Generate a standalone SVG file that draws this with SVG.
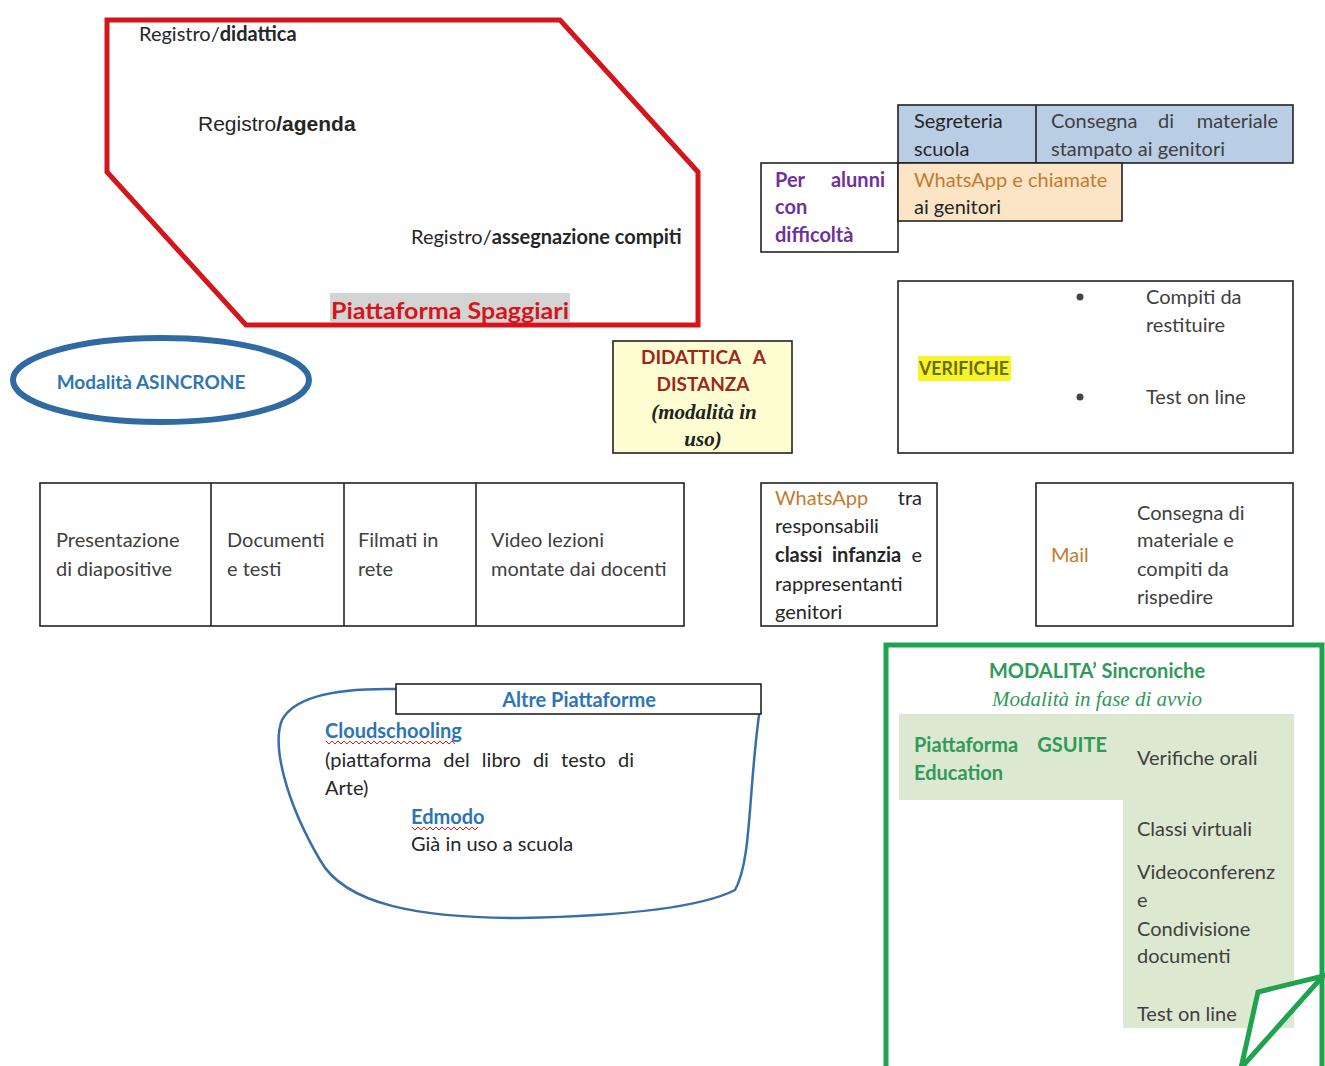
<svg xmlns="http://www.w3.org/2000/svg" width="1325" height="1066" viewBox="0 0 1325 1066">
<style>
text{font-family:Lato,"Open Sans","Liberation Sans",sans-serif;font-size:20px;fill:#262626}
.b{font-weight:bold}
.g{fill:#404040}
.box{fill:none;stroke:#222;stroke-width:1.6}
.serif{font-family:"Liberation Serif","DejaVu Serif",serif}
</style>
<rect width="1325" height="1066" fill="#fff"/>

<g id="spaggiari">
<polygon points="107,20 560,20 698,172 698,325 246,325 107,172" fill="none" stroke="#d4161c" stroke-width="5"/>
<text x="139" y="41">Registro/<tspan class="b">didattica</tspan></text>
<text x="198" y="131" style="font-family:'Liberation Sans',Arial,sans-serif;font-size:21px">Registro<tspan class="b">/agenda</tspan></text>
<text x="411" y="244">Registro/<tspan class="b">assegnazione compiti</tspan></text>
<rect x="330" y="293" width="240" height="29" fill="#d4d4d4"/>
<text x="331" y="319" class="b" textLength="238" lengthAdjust="spacingAndGlyphs" style="font-size:23px;fill:#d4161c">Piattaforma Spaggiari</text>
</g>

<g id="asincrone">
<ellipse cx="161" cy="380" rx="148" ry="42" fill="none" stroke="#2f6aa3" stroke-width="6"/>
<text x="151" y="389" text-anchor="middle" class="b" style="fill:#2e75b6;font-size:19px">Modalità ASINCRONE</text>
</g>

<g id="segreteria">
<rect x="898" y="105" width="395" height="58" fill="#b9cde5" stroke="#222" stroke-width="1.6"/>
<line x1="1036" y1="105" x2="1036" y2="163" stroke="#222" stroke-width="1.6"/>
<text x="914" y="128">Segreteria</text>
<text x="914" y="156">scuola</text>
<text y="128" style="fill:#404040"><tspan x="1051">Consegna</tspan><tspan x="1158">di</tspan><tspan x="1278" text-anchor="end">materiale</tspan></text>
<text x="1051" y="156" style="fill:#404040">stampato ai genitori</text>
</g>

<g id="difficolta">
<rect x="761" y="163" width="137" height="89" class="box" fill="#fff"/>
<text y="187" class="b" style="fill:#7030a0"><tspan x="775">Per</tspan><tspan x="885" text-anchor="end">alunni</tspan></text>
<text x="775" y="214" class="b" style="fill:#7030a0">con</text>
<text x="775" y="242" class="b" style="fill:#7030a0">difficoltà</text>
</g>

<g id="whatsapp-chiamate">
<rect x="898" y="163" width="224" height="58" fill="#fce5c7" stroke="#222" stroke-width="1.6"/>
<text x="914" y="187" style="fill:#c57a2c">WhatsApp e chiamate</text>
<text x="914" y="214">ai genitori</text>
</g>

<g id="didattica">
<rect x="613" y="341" width="179" height="112" fill="#fefed2" stroke="#222" stroke-width="1.6"/>
<text y="364" class="b" style="fill:#a0261c;font-size:19px"><tspan x="641">DIDATTICA</tspan><tspan x="766" text-anchor="end">A</tspan></text>
<text x="703" y="391" text-anchor="middle" class="b" style="fill:#a0261c;font-size:19px">DISTANZA</text>
<text x="704" y="419" text-anchor="middle" class="serif" style="font-weight:bold;font-style:italic;font-size:21px;fill:#222">(modalità in</text>
<text x="703" y="446" text-anchor="middle" class="serif" style="font-weight:bold;font-style:italic;font-size:21px;fill:#222">uso)</text>
</g>

<g id="verifiche">
<rect x="898" y="281" width="395" height="172" class="box"/>
<rect x="918" y="356" width="93" height="25" fill="#f5f52a"/>
<text x="919" y="375" class="b" textLength="90" lengthAdjust="spacingAndGlyphs" style="fill:#6b6b00;font-size:18px">VERIFICHE</text>
<circle cx="1080" cy="297" r="3.5" fill="#444"/>
<circle cx="1080" cy="397" r="3.5" fill="#444"/>
<text x="1146" y="304" class="g">Compiti da</text>
<text x="1146" y="332" class="g">restituire</text>
<text x="1146" y="404" class="g">Test on line</text>
</g>

<g id="strumenti">
<rect x="40" y="483" width="644" height="143" class="box"/>
<line x1="211" y1="483" x2="211" y2="626" stroke="#222" stroke-width="1.6"/>
<line x1="344" y1="483" x2="344" y2="626" stroke="#222" stroke-width="1.6"/>
<line x1="476" y1="483" x2="476" y2="626" stroke="#222" stroke-width="1.6"/>
<text x="56" y="547" class="g">Presentazione</text>
<text x="56" y="576" class="g">di diapositive</text>
<text x="227" y="547" class="g">Documenti</text>
<text x="227" y="576" class="g">e testi</text>
<text x="358" y="547" class="g">Filmati in</text>
<text x="358" y="576" class="g">rete</text>
<text x="491" y="547" class="g">Video lezioni</text>
<text x="491" y="576" class="g">montate dai docenti</text>
</g>

<g id="whatsapp-infanzia">
<rect x="761" y="483" width="176" height="143" class="box"/>
<text y="505"><tspan x="775" style="fill:#c57a2c">WhatsApp</tspan><tspan x="922" text-anchor="end">tra</tspan></text>
<text x="775" y="533">responsabili</text>
<text y="562"><tspan x="775" class="b">classi</tspan><tspan x="832" class="b">infanzia</tspan><tspan x="922" text-anchor="end">e</tspan></text>
<text x="775" y="591">rappresentanti</text>
<text x="775" y="619">genitori</text>
</g>

<g id="mail">
<rect x="1036" y="483" width="257" height="143" class="box"/>
<text x="1051" y="562" style="fill:#c57a2c">Mail</text>
<text x="1137" y="520" class="g">Consegna di</text>
<text x="1137" y="547" class="g">materiale e</text>
<text x="1137" y="576" class="g">compiti da</text>
<text x="1137" y="604" class="g">rispedire</text>
</g>

<g id="altre-piattaforme">
<path d="M396,689 C340,688 295,695 282,720 C272,745 285,800 320,860 C345,905 420,918 520,918 C620,916 700,908 735,890 C752,860 748,790 760,708" fill="none" stroke="#3a6ea6" stroke-width="2.5"/>
<rect x="396" y="684" width="365" height="30" fill="#fff" stroke="#222" stroke-width="1.6"/>
<text x="579" y="707" text-anchor="middle" class="b" style="fill:#2e75b6">Altre Piattaforme</text>
<text x="325" y="738" class="b" style="fill:#2e75b6">Cloudschooling</text>
<path d="M326,741 l3,3 l3,-3 l3,3 l3,-3 l3,3 l3,-3 l3,3 l3,-3 l3,3 l3,-3 l3,3 l3,-3 l3,3 l3,-3 l3,3 l3,-3 l3,3 l3,-3 l3,3 l3,-3 l3,3 l3,-3 l3,3 l3,-3 l3,3 l3,-3 l3,3 l3,-3 l3,3 l3,-3 l3,3 l3,-3 l3,3 l3,-3 l3,3 l3,-3 l3,3 l3,-3 l3,3 l3,-3 l3,3 l3,-3 l3,3" fill="none" stroke="#e02020" stroke-width="1"/>
<text x="325" y="767" style="word-spacing:7px">(piattaforma del libro di testo di</text>
<text x="325" y="795">Arte)</text>
<text x="411" y="824" class="b" style="fill:#2e75b6">Edmodo</text>
<path d="M412,827 l3,3 l3,-3 l3,3 l3,-3 l3,3 l3,-3 l3,3 l3,-3 l3,3 l3,-3 l3,3 l3,-3 l3,3 l3,-3 l3,3 l3,-3 l3,3 l3,-3 l3,3 l3,-3 l3,3 l3,-3" fill="none" stroke="#e02020" stroke-width="1"/>
<text x="411" y="851">Già in uso a scuola</text>
</g>

<g id="sincroniche">
<rect x="886" y="645" width="436" height="430" fill="none" stroke="#1fa34f" stroke-width="5"/>
<text x="1097" y="678" text-anchor="middle" class="b" style="fill:#2f9a5a">MODALITA’ Sincroniche</text>
<text x="1097" y="706" text-anchor="middle" class="serif" style="font-style:italic;font-size:21px;fill:#2f9a5a">Modalità in fase di avvio</text>
<path d="M899,714 H1294 V1028 H1123 V800 H899 Z" fill="#dde8d0"/>
<text y="752" class="b" style="fill:#2f9a5a"><tspan x="914">Piattaforma</tspan><tspan x="1107" text-anchor="end">GSUITE</tspan></text>
<text x="914" y="780" class="b" style="fill:#2f9a5a">Education</text>
<text x="1137" y="765" class="g">Verifiche orali</text>
<text x="1137" y="836" class="g">Classi virtuali</text>
<text x="1137" y="879" class="g">Videoconferenz</text>
<text x="1137" y="907" class="g">e</text>
<text x="1137" y="936" class="g">Condivisione</text>
<text x="1137" y="963" class="g">documenti</text>
<text x="1137" y="1021" class="g">Test on line</text>
<polygon points="1241,1068 1258,992 1323,976" fill="#fff" stroke="#1fa34f" stroke-width="5" stroke-linejoin="miter"/>
</g>
</svg>
